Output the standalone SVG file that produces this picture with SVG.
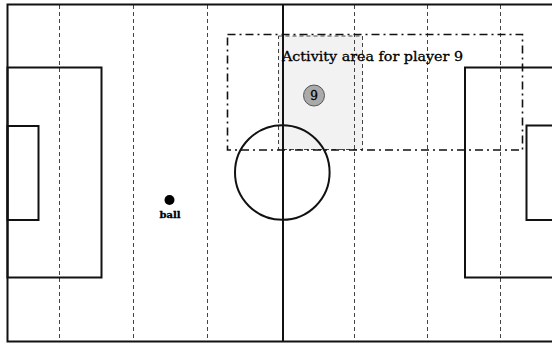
<svg xmlns="http://www.w3.org/2000/svg" width="552" height="343" viewBox="0 0 552 343">
<style>
.field{fill:none;stroke:#111;stroke-width:2}
.grid{stroke:#444;stroke-width:1;stroke-dasharray:4,3;fill:none}
.lbl{font-family:"DejaVu Serif","Liberation Serif",serif;fill:#000;stroke:#000;stroke-width:0.3}
</style>
<rect width="552" height="343" fill="#fff"/>
<g id="activity-shade">
<rect x="278.5" y="36" width="84" height="113.5" fill="#f2f2f2" stroke="#444" stroke-width="1" stroke-dasharray="4,3"/>
</g>
<g id="grid-lines">
<line class="grid" x1="59.5" y1="5" x2="59.5" y2="341"/>
<line class="grid" x1="133.5" y1="5" x2="133.5" y2="341"/>
<line class="grid" x1="207.5" y1="5" x2="207.5" y2="341"/>
<line class="grid" x1="354.5" y1="5" x2="354.5" y2="341"/>
<line class="grid" x1="427.5" y1="5" x2="427.5" y2="341"/>
<line class="grid" x1="500.5" y1="5" x2="500.5" y2="341"/>
</g>
<g id="field">
<path class="field" d="M553,4.5 H7.5 V341.5 H553"/>
<line class="field" x1="283" y1="4.5" x2="283" y2="341.5"/>
<rect class="field" x="7.5" y="67.5" width="94" height="210"/>
<rect class="field" x="7.5" y="126" width="31" height="94"/>
<rect class="field" x="465" y="67.5" width="90" height="210"/>
<rect class="field" x="526.5" y="125.5" width="30" height="94.5"/>
<circle class="field" cx="282.3" cy="172.5" r="47.3"/>
</g>
<g id="activity-area">
<rect x="227.5" y="34.5" width="295" height="115.5" fill="none" stroke="#111" stroke-width="1.6" stroke-dasharray="8,4,2,4"/>
<text class="lbl" x="282" y="60.5" font-size="13" textLength="181" lengthAdjust="spacingAndGlyphs">Activity area for player 9</text>
</g>
<g id="player-9">
<circle cx="314" cy="95.5" r="10.5" fill="#aaaaaa" stroke="#555" stroke-width="1"/>
<text class="lbl" x="314" y="100" font-size="12" text-anchor="middle">9</text>
</g>
<g id="ball">
<circle cx="169.5" cy="200" r="5" fill="#000"/>
<text class="lbl" x="170" y="217.5" font-size="10" font-weight="bold" text-anchor="middle" stroke-width="0">ball</text>
</g>
</svg>
